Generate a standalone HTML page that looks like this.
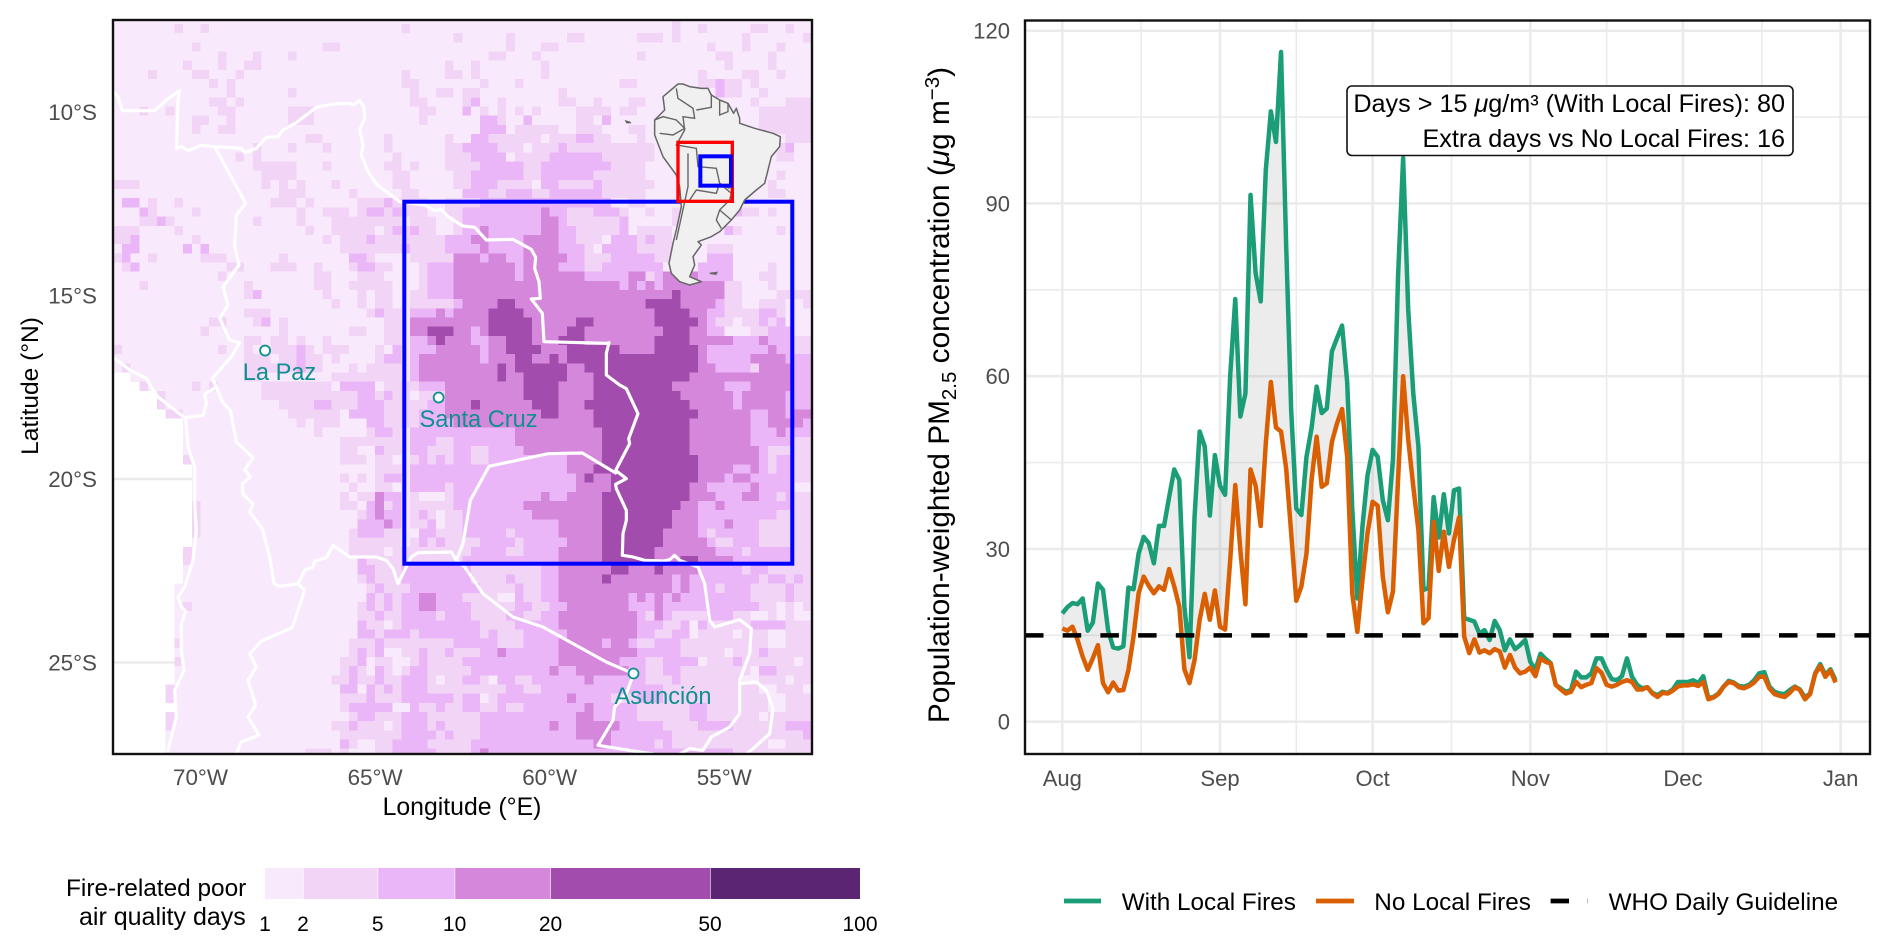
<!DOCTYPE html>
<html lang="en">
<head>
<meta charset="utf-8">
<title>Fire-related poor air quality days and PM2.5 concentration</title>
<style>
html,body{margin:0;padding:0;background:#fff;width:1892px;height:950px;overflow:hidden}
svg{display:block}
text{font-family:"Liberation Sans",Arial,sans-serif}
</style>
</head>
<body>
<svg id="fig" xmlns="http://www.w3.org/2000/svg" width="1892" height="950" viewBox="0 0 1892 950">
  <defs>
    <clipPath id="map-clip"><rect x="113" y="20" width="699" height="734"/></clipPath>
  </defs>
  <rect x="0" y="0" width="1892" height="950" fill="#fff"/>

  <g id="map-panel">
    <g id="map-cells" clip-path="url(#map-clip)"></g>
    <g clip-path="url(#map-clip)">
      <g transform="translate(113,20) scale(0.33333)" fill="none" stroke="#fff" stroke-width="9.5" stroke-linejoin="round" stroke-linecap="round">
        <polyline points="5,218 15,230 28,272 125,272 160,240 200,212 195,240 190,385 205,380 225,392 265,376 305,380 385,385 395,398 430,385 460,352 495,350 510,330 550,308 610,262 660,252 710,250 720,255 740,242 752,260 755,295 740,330 750,375 745,405 765,455 790,492 820,515 860,545 935,555 965,572 985,568 1005,590 1050,618 1085,622 1120,660 1200,658 1255,688 1268,712 1265,745 1278,785 1282,835 1255,837 1288,880 1293,965 1480,970 1488,968 1480,1000 1480,1065 1520,1095 1540,1106 1575,1181 1547,1256 1550,1271 1508,1351 1540,1376 1508,1393 1510,1406 1540,1471 1540,1501 1530,1541 1528,1606 1560,1611 1595,1621 1650,1623 1670,1619 1685,1606 1700,1621 1755,1641 1775,1691 1790,1801 1805,1821 1880,1799 1915,1826 1910,1901 1880,1981 1880,2081 1850,2121 1795,2151 1770,2191 1730,2186 1700,2202"/>
        <polyline points="305,380 398,550 370,585 365,680 378,735 330,800 345,855 320,895 350,960 380,968 355,1010 298,1075 310,1101 328,1146 352,1171 370,1266 420,1313 395,1349 412,1371 388,1391 390,1423 420,1451 410,1476 448,1526 470,1611 483,1691 500,1699 555,1691 575,1711 538,1823 445,1863 410,1901 430,1941 405,1981 428,2056 405,2091 438,2146 385,2166 370,2202"/>
        <polyline points="555,1691 575,1651 600,1641 605,1623 640,1613 660,1576 710,1611 790,1611 820,1621 840,1646 855,1691 870,1661 895,1611 915,1598 1015,1596 1030,1621 1050,1571 1072,1441 1128,1339 1305,1301 1408,1299 1508,1359"/>
        <polyline points="1030,1621 1055,1641 1110,1721 1200,1791 1290,1821 1380,1871 1480,1926 1562,1961 1540,2021 1505,2061 1500,2101 1455,2176 1580,2196 1620,2202"/>
        <polyline points="1880,1991 1930,1986 1960,2011 1980,2066 1970,2141 1920,2186 1900,2202"/>
        <polyline points="5,1015 50,1050 100,1075 115,1101 135,1131 215,1193 270,1186 280,1151 275,1123 310,1101"/>
        <polyline points="218,1193 225,1281 245,1341 245,1451 250,1531 240,1621 215,1701 195,1731 205,1761 218,1773 205,1811 205,1891 213,1951 185,2011 190,2091 165,2191"/>
      </g>
      <rect x="404.3" y="201.7" width="388" height="362" fill="none" stroke="#0000ff" stroke-width="4"/>
      <g transform="translate(113,20) scale(0.33333)">
        <polygon fill="#f0f0f0" stroke="#666" stroke-width="4.5" stroke-linejoin="round" points="1695,192 1710,192 1730,200 1765,205 1785,205 1795,225 1820,240 1845,250 1862,280 1870,265 1880,295 1880,310 1925,325 1980,340 2002,350 2000,380 1975,410 1965,450 1955,490 1930,510 1895,540 1880,570 1855,600 1820,635 1795,650 1755,665 1765,675 1740,710 1745,735 1730,770 1765,785 1730,795 1700,785 1675,760 1668,730 1680,670 1690,630 1705,560 1700,500 1690,465 1650,410 1625,345 1625,300 1655,270 1650,230"/>
        <g fill="none" stroke="#666" stroke-width="4.2">
          <polyline points="1625,300 1650,290 1690,300 1715,325 1680,345 1640,340"/>
          <polyline points="1690,205 1695,235 1740,265 1745,295 1710,290 1715,330 1690,375 1750,385 1755,440 1810,445 1820,490 1850,505"/>
          <polyline points="1795,225 1795,262 1750,270"/>
          <polyline points="1820,240 1820,285 1845,275 1845,250"/>
          <polyline points="1725,400 1725,500 1690,660"/>
          <polyline points="1730,540 1750,510 1810,520 1820,490 1855,520 1850,540 1820,570 1810,600 1825,625"/>
          <polyline points="1820,570 1855,600"/>
        </g>
        <polygon fill="#666" points="1790,758 1815,755 1810,765 1790,762"/>
        <polygon fill="#666" points="1535,300 1552,305 1555,310 1540,310"/>
        <rect x="1695" y="367" width="163" height="177" fill="none" stroke="#ff0000" stroke-width="10"/>
        <rect x="1762" y="409" width="92" height="88" fill="none" stroke="#0000ff" stroke-width="12"/>
      </g>
      <g id="map-cities"></g>
      <text x="279.5" y="380" font-size="23.6" fill="#0f8f8f" text-anchor="middle">La Paz</text>
      <text x="478.5" y="427" font-size="23.6" fill="#0f8f8f" text-anchor="middle">Santa Cruz</text>
      <text x="663" y="704" font-size="23.6" fill="#0f8f8f" text-anchor="middle">Asunción</text>
    </g>
    <rect x="113" y="20" width="699" height="734" fill="none" stroke="#111" stroke-width="2.4"/>
    <g id="map-axis-labels" font-size="22.4" fill="#4d4d4d"></g>
    <text x="462" y="815" font-size="24.8" fill="#000" text-anchor="middle">Longitude (°E)</text>
    <text transform="translate(38,386) rotate(-90)" font-size="24.5" fill="#000" text-anchor="middle">Latitude (°N)</text>
  </g>

  <g>
    <text x="66" y="896" font-size="24.4" fill="#000">Fire-related poor</text>
    <text x="79" y="925" font-size="25" fill="#000">air quality days</text>
    <rect x="265" y="868" width="38" height="31" fill="#f8e9fc"/>
    <rect x="303.6" y="868" width="74" height="31" fill="#f2d5f6"/>
    <rect x="378.2" y="868" width="76.4" height="31" fill="#eab6f7"/>
    <rect x="455.2" y="868" width="95.3" height="31" fill="#d587db"/>
    <rect x="551" y="868" width="159" height="31" fill="#a24cad"/>
    <rect x="710.6" y="868" width="149.4" height="31" fill="#5b2574"/>
    <g font-size="21" fill="#000" text-anchor="middle">
      <text x="265" y="931">1</text>
      <text x="303" y="931">2</text>
      <text x="377.7" y="931">5</text>
      <text x="454.6" y="931">10</text>
      <text x="550.5" y="931">20</text>
      <text x="710" y="931">50</text>
      <text x="860" y="931">100</text>
    </g>
  </g>

  <g id="chart-panel">
    <g id="chart-grid"></g>
    <g id="chart-series"></g>
    <rect x="1025" y="20.5" width="845" height="733.5" fill="none" stroke="#111" stroke-width="2.4"/>
    <g id="chart-tick-labels" font-size="22" fill="#4d4d4d"></g>
    <text transform="translate(949,395) rotate(-90)" font-size="29.8" fill="#000" text-anchor="middle">Population-weighted PM<tspan dy="7" font-size="20.5">2.5</tspan><tspan dy="-7"> concentration (</tspan><tspan font-style="italic">μ</tspan>g m<tspan dy="-10" font-size="20.5">−3</tspan><tspan dy="10">)</tspan></text>
    <g>
      <rect x="1347" y="86" width="446" height="69.5" rx="5" fill="#fff" stroke="#111" stroke-width="1.6"/>
      <text x="1785" y="112" font-size="25.2" fill="#000" text-anchor="end">Days &gt; 15 <tspan font-style="italic">μ</tspan>g/m³ (With Local Fires): 80</text>
      <text x="1785" y="147" font-size="25.2" fill="#000" text-anchor="end">Extra days vs No Local Fires: 16</text>
    </g>
  </g>

  <g>
    <g>
      <line x1="1064" y1="901" x2="1101" y2="901" stroke="#1b9e77" stroke-width="4.8"/>
      <text x="1121.7" y="910" font-size="24.3" fill="#000">With Local Fires</text>
    </g>
    <g>
      <line x1="1316" y1="901" x2="1354" y2="901" stroke="#d95f02" stroke-width="4.8"/>
      <text x="1374.3" y="910" font-size="24.3" fill="#000">No Local Fires</text>
    </g>
    <g>
      <line x1="1550.6" y1="901" x2="1569" y2="901" stroke="#000" stroke-width="4.8"/>
      <line x1="1587" y1="901" x2="1588" y2="901" stroke="#bbb" stroke-width="4.8"/>
      <text x="1608.6" y="910" font-size="24.3" fill="#000">WHO Daily Guideline</text>
    </g>
  </g>
</svg>

<script>
// ---------- Map data ----------
var classColours = ['#f8e9fc', '#f2d5f6', '#eab6f7', '#d587db', '#a24cad', '#5b2574'];
var lonTicks = [-70, -65, -60, -55];
var latTicks = [-10, -15, -20, -25];
var latGridlines = [-20, -25];
var cityNames = ['La Paz', 'Santa Cruz', 'Asunción'];
var cityLons = [-68.15, -63.18, -57.6];
var cityLats = [-16.5, -17.78, -25.3];
// Binned fire-related poor-air-quality day class per 0.25° cell, north to south; "." = no data
var mapRows = [
"0000000000 0000000000 0000000000 0000000000 0000000000 0000000000 0000100000 0000000000",
"0000000100 1000000000 0000000000 0001000000 0000000000 0000000000 0000100100 0001100100",
"0000000000 0000000000 0000000000 0000000001 0000010000 0011000000 1110100000 0010000001",
"0000000001 0000000000 0000110000 0000000000 0000010001 1000000000 0000000010 0010001000",
"0000000000 0010001000 1000000000 0000000000 0001100010 0000000000 1000000001 1000010000",
"0000000010 0010011000 0000000000 0000000010 0100000001 0000000000 0000000000 1000010000",
"0000100001 1000100000 0000000000 0001000011 0100000001 0000000000 0000000100 0011001000",
"0000000000 0101000000 0000000000 0001100000 0010001000 0000000011 0000000112 1101000000",
"0000000000 0001000000 1000000000 0000100110 1100000000 0100000000 0000000002 1100100000",
"0000000000 0110100000 0000000000 0000110000 1200100000 0110010001 1000000000 0001000111",
"0001001000 0011000000 1110000000 0000011000 2010101010 0001111011 0000000000 0000111111",
"0000000001 1001000000 1110000000 0000010000 0022100200 0001102000 0000000000 0000111111",
"0000000001 0011000000 0000000000 0000000000 0022201111 1001110001 1000000000 0000111111",
"0000000000 0000000000 0011000000 0100000010 0221111110 1112211000 1000000000 0000000111",
"0000000000 0000001000 1000100000 0100000011 2222111011 1211111111 1100000000 0000011200",
"0000000000 0000101000 0000000000 0010000011 1222201111 2222221111 1100000000 0000001100",
"0000000000 0000001111 1000100000 0110100011 1122222112 2222222111 1000000000 0000000000",
"0000000000 0000000111 1000000000 0011000001 1222222112 2222211111 1000000000 0000001000",
"1110000000 0000000101 0100010000 0011000001 1222111102 2111121111 1100000000 0000010000",
"0000000000 0000000001 1100000100 0001100000 2221122211 2222221111 1000000000 0000011000",
"0220100100 0000000011 1010000011 1211110011 1122222222 2222222001 1000000000 0000000000",
"0002100001 0000000000 0100111012 2121110011 2222222223 2211122210 0100100000 0211010000",
"0001121000 0000001000 0100011111 1110111001 2222222223 3211111120 0000100000 0000000000",
"1110000100 0000000000 0010011111 0121211001 2232222223 3221111120 1111000000 2100001000",
"1120000001 0000000000 0000101112 1111111122 2332222333 3221110222 1211000000 0000000000",
"0220000020 2000000000 0000001111 1112111122 2232222333 3222102222 1111000011 1000000000",
"1200100000 1110000001 0000000221 0000111113 3323322333 3322111222 2211000022 2000000000",
"0120000000 0001100011 1001000122 1100012223 3333332333 3222112222 2220000222 2000010000",
"0000000000 0010000000 0001100011 1000012223 3333332333 3333222223 3123333222 2000110000",
"0001000000 0000010000 0001100111 1100012223 3333333333 3333333323 2323333333 1100010000",
"0000000000 0000012000 0000100010 1100112223 3333333333 3333333333 3333433333 1100001111",
"0000000000 0000000000 0000010010 1100111112 3333443333 3333333333 3444433332 1100111001",
"0000000000 0000011100 0000000001 2110222323 3334444333 3333333333 3344443322 1111221000",
"0000000000 0110001201 0000000000 0110333333 3334444433 3334433333 3344444321 1011212000",
"0000000000 1000000001 0000000110 0110334443 3234444433 3344333333 3334443322 0001122200",
"0000000000 0000011011 0100100000 0110223433 3223344433 3444333333 3344443333 3222322211",
"1000000000 0010010011 1210111000 1020222333 3323344443 3344444433 3344444322 2222232211",
"0000000000 0000011101 1211010000 1220233333 3323334433 4344444444 4444444322 2223333222",
"0100000000 0000011111 1211000101 1110233333 3333434444 4433444444 4444444332 2221333322",
"..00000000 0000011000 0000011111 1110233333 3333433444 4433344444 4444443333 3333333322",
"...1000001 0100000111 1111102222 0111122233 3333333444 4333344444 4444333333 2223333322",
".....10000 0000000111 1111111122 1211011133 3333333444 4333344444 4444433333 3233333222",
".....10000 0000000001 1112211122 2111112233 3433333344 4333444444 4444443333 3233333222",
"......1100 0000000000 1111110222 2111122233 3333333334 4333344444 4444444333 3332233233",
"........00 0000000000 0101110002 2111122223 3333333333 3333344444 4444443333 3332233332",
"........00 0000000000 0001000001 2210222222 2222223333 3333334444 4444443333 3332223222",
"........00 0000000000 0000001111 1110222112 2222223333 3333334444 4444443333 3332222211",
"........00 0000000000 0000001100 2110221112 2112222333 3333334444 4444443333 3333211111",
"........10 0000000000 0000001110 1100121212 2112222222 2233334444 4444444333 3333212211",
".........0 0000000000 0000000000 1110222222 2222222222 2233344444 4444444333 3223212211",
".........0 0000000000 0000001010 1220222222 2222222222 2223433444 4444444333 2332222211",
".........0 0000000000 0000000100 1100222212 2222222222 2223333444 4444443322 2223222200",
".........0 0000000000 0000001011 3220100012 2222222223 2233334444 4444443332 2233221211",
".........1 0000000000 0000001102 3120111112 2222222333 3333334444 4444433223 2222222211",
".........1 0000000000 0000000012 3220121011 2222222233 3333334444 4444333222 2222221111",
".........1 0000000000 0000000022 2320112011 2222222222 2333334444 4444333222 3222111111",
".........1 0000000000 0000000122 2110022111 2222212222 2333334444 4443333212 2222111111",
".........0 0000000000 0000000111 1110121211 1122221222 2233334444 4443333321 1222111111",
"........10 0000000000 0000000111 1011111111 1222211222 2333334444 4433333332 2212222211",
"........10 0000000000 0000000021 1111111111 2222222222 2333334444 4433344333 3222222211",
"........00 0000000000 0000000022 1112222222 2111111112 2333333443 3343333222 2212211111",
"........00 0000000000 0000000012 1112222222 2111121112 2333334333 3333232222 2222122121",
".......000 0000000000 0000000001 2111222222 2211112112 2333333333 3333232221 2221111211",
".......000 0000000000 0000000002 1212233222 1111002112 2333333332 3232322222 2221111211",
".......010 0000000000 0000000012 1212233222 2111112211 2233333332 2232222222 2222110101",
".......000 0000000000 0000000011 2112222122 2111122112 2333333333 2132111122 2110010100",
".......000 0000000000 0000000021 1012222222 2211112222 2333333333 2221120211 1112222111",
".......000 0000000000 0000000022 1222122222 2212111222 2233333333 2211220111 1011100111",
".......100 0000000000 0000000111 2111111112 2222111222 2333332332 1122211111 1111100111",
".......000 0000000000 0000000121 2001121121 1122322222 2333333333 2222211111 0111211111",
".......100 0000000000 0000001120 1100121111 2222222222 2333333322 2112222011 1211111101",
".......000 0000000000 0000001210 2101221111 1222222222 3223333332 2112211111 1110221111",
".......000 0000000000 0000011211 2112221011 2210221122 2222322222 2111211111 1100111011",
"......1000 0000000000 0000002202 1212221111 1111122112 2222222222 2221111111 1111001110",
"......1000 0000000000 0000001112 1112222221 2201222222 2232222111 2221111111 1111100111",
".......000 0000000000 0000001222 2200211211 2211211222 2222322222 1111112211 1111100111",
"......1000 0000000000 0000000122 1112221111 1122222222 2223322222 1111112211 1111011111",
"......1000 0000000000 0000011211 1012221211 1122222222 3223333322 2221111222 2111111222",
"......0000 0000000000 0000001111 1112222121 1122222222 2223333222 2222111111 1111111112",
"......0000 0000000000 0000002100 1122221111 1222222222 2222233222 2212111111 1111100111",
"......0000 0000000000 0011101000 1122222111 1232222222 2222222222 2222222222 2111111111"
];

// ---------- Time-series data ----------
var startDate = '2024-08-01';
var monthLabels = ['Aug', 'Sep', 'Oct', 'Nov', 'Dec', 'Jan'];
var monthDays = [0, 31, 61, 92, 122, 153];
var minorDays = [15.5, 46, 76.5, 107, 137.5];
var yTicks = [0, 30, 60, 90, 120];
var yMinorTicks = [15, 45, 75, 105];
var whoGuideline = [15];
var withLocalFires = [
18.8,19.9,20.6,20.4,21.4,15.8,17.2,24,22.9,15.9,12.9,12.7,13.1,23.3,23,29.2,32.1,31,27.5,34,34,39,43.8,42,20,11.2,35.6,50.4,47.8,35.8,46.3,41,
39.4,60,73.4,53,57,91.5,77.9,73,95.8,106,100.7,116.3,83,54,37,35.9,46,51,58.2,53.6,54.4,64.3,66.6,68.8,59,37,21.4,33.9,42.8,
47.2,46,38.5,35,45.5,77.3,97.9,71.5,57,47.8,22.9,23.2,39,32,39.5,32.7,40.2,40.5,18,17.7,17.4,15.3,15.9,14.2,17.5,15.9,12.4,14.3,12.6,13.3,14.2,
10.4,9,11.8,10.9,10.2,6.4,5.8,5.2,5.5,8.7,7.7,7.7,8.4,11,11,9,7.4,7.2,7.9,11,7.8,6.4,5.8,6,5,4.6,5.2,5,5.6,6.9,6.9,6.9,7.2,6.7,
7.9,4.1,4.3,4.9,6.1,7.1,6.8,6.2,6.1,6.4,7.2,8.4,8.6,6.1,5.2,4.9,4.8,5.5,6.1,5.6,4.2,4.9,8.4,10,8.1,9.1,7.2
];
var noLocalFires = [
16.2,15.8,16.5,14.2,11.3,9,11,13.3,6.7,5.1,6.8,5.4,5.5,9,14.8,22.3,25.2,23.6,22.3,23.5,22.9,26.5,23.5,20,9.1,6.7,10.7,17.7,22.2,17.7,22.8,16.5,
16,28,41.1,29.8,20.4,43.8,41,34,48.3,59,51.1,50.4,44,32.7,21,23.5,29.2,42,49.5,40.8,41.4,48.6,51.8,54.3,46,22.3,15.6,24.6,32.7,
38.2,37.5,25.2,19,22.6,42,60,49,40.8,33.3,17.1,18,34.7,26.2,33,26.9,31.6,35.5,14.8,11.9,14.3,12,12.4,11.9,12.6,12.2,9.4,11.6,9.4,8.4,8.7,
9.4,7.9,11,10.4,10.1,6.4,5.6,4.9,5.2,6.9,6,6.4,6.7,9.3,8.5,6.4,6.1,6.4,6.9,7.2,6.9,5.6,5.6,6,4.9,4.3,5,4.9,5.4,6.1,6.3,6.3,6.5,6.2,
6.9,3.9,4.2,4.8,6.1,6.9,6.7,6,5.8,6.2,6.8,7.8,7.8,5.8,4.8,4.5,4.3,5,6,5.5,3.9,4.8,8.3,9.7,7.8,8.9,6.8
];

// ---------- Axis functions ----------
var SVGNS = 'http://www.w3.org/2000/svg';
function mapX(lon) { return 200.5 + (lon + 70) * 34.92; }
function mapY(lat) { return 112 + (-lat - 10) * 36.7; }
function chartX(day) { return 1062.3 + day * 5.087; }
function chartY(value) { return 721.7 - value * 5.758; }
function make(tag, parent, attrs) {
  var el = document.createElementNS(SVGNS, tag);
  for (var k in attrs) { el.setAttribute(k, attrs[k]); }
  parent.appendChild(el);
  return el;
}
function lonLabel(lon) { return Math.abs(lon) + '°W'; }
function latLabel(lat) { return Math.abs(lat) + '°S'; }

// ---------- Map ----------
var cellsGroup = document.getElementById('map-cells');
var cellLon = 0.25, cellLat = 0.25, lonStart = -72.5, latStart = -7.35;
latGridlines.forEach(function (lat) {
  var g = make('line', cellsGroup, { x1: 113, x2: 812, y1: mapY(lat), y2: mapY(lat), stroke: '#ebebeb', 'stroke-width': 2.6 });
  
  
});
mapRows.forEach(function (rowText, r) {
  var row = rowText.replace(/ /g, '');
  for (var c = 0; c < row.length; c++) {
    var ch = row.charAt(c);
    if (ch === '.') { continue; }
    var x0 = mapX(lonStart + c * cellLon), x1 = mapX(lonStart + (c + 1) * cellLon);
    var y0 = mapY(latStart - r * cellLat), y1 = mapY(latStart - (r + 1) * cellLat);
    var cell = make('rect', cellsGroup, { x: x0, y: y0, width: x1 - x0 + 0.15, height: y1 - y0 + 0.15, fill: classColours[+ch], 'shape-rendering': 'crispEdges' });
    
    
  }
});
var citiesGroup = document.getElementById('map-cities');
cityNames.forEach(function (name, i) {
  var m = make('circle', citiesGroup, { cx: mapX(cityLons[i]), cy: mapY(cityLats[i]), r: 5, fill: '#fff', stroke: '#0f8f8f', 'stroke-width': 1.8 });
  
  
});
var mapLabels = document.getElementById('map-axis-labels');
lonTicks.forEach(function (lon) {
  var t = make('text', mapLabels, { x: mapX(lon), y: 785, 'text-anchor': 'middle' });
  t.textContent = lonLabel(lon);
  
  
});
latTicks.forEach(function (lat) {
  var t = make('text', mapLabels, { x: 97, y: mapY(lat) + 8, 'text-anchor': 'end' });
  t.textContent = latLabel(lat);
  
  
});

// ---------- Time series ----------
var gridGroup = document.getElementById('chart-grid');
function hLine(v, w) {
  var l = make('line', gridGroup, { x1: 1025, x2: 1870, y1: chartY(v), y2: chartY(v), stroke: '#ebebeb', 'stroke-width': w });
  
  
}
function vLine(d, w) {
  var l = make('line', gridGroup, { x1: chartX(d), x2: chartX(d), y1: 20.5, y2: 754, stroke: '#ebebeb', 'stroke-width': w });
  
  
}
yMinorTicks.forEach(function (v) { hLine(v, 1.6); });
yTicks.forEach(function (v) { hLine(v, 2.6); });
minorDays.forEach(function (d) { vLine(d, 1.6); });
monthDays.forEach(function (d) { vLine(d, 2.6); });

var seriesGroup = document.getElementById('chart-series');
function pointsOf(values) {
  return values.map(function (v, i) { return chartX(i).toFixed(2) + ',' + chartY(v).toFixed(2); });
}
var ribbon = make('polygon', seriesGroup, {
  points: pointsOf(withLocalFires).concat(pointsOf(noLocalFires).reverse()).join(' '),
  fill: '#808080', 'fill-opacity': 0.15, stroke: 'none'
});


var lineWith = make('polyline', seriesGroup, {
  points: pointsOf(withLocalFires).join(' '), fill: 'none', stroke: '#1b9e77', 'stroke-width': 4.5, 'stroke-linejoin': 'round'
});


var lineNo = make('polyline', seriesGroup, {
  points: pointsOf(noLocalFires).join(' '), fill: 'none', stroke: '#d95f02', 'stroke-width': 4.5, 'stroke-linejoin': 'round'
});


var who = make('line', seriesGroup, {
  x1: 1025, x2: 1870, y1: chartY(whoGuideline[0]), y2: chartY(whoGuideline[0]), stroke: '#000', 'stroke-width': 4.5, 'stroke-dasharray': '18.5 19.2'
});



var tickGroup = document.getElementById('chart-tick-labels');
yTicks.forEach(function (v) {
  var t = make('text', tickGroup, { x: 1010, y: chartY(v) + 8, 'text-anchor': 'end' });
  t.textContent = String(v);
  
  
});
monthLabels.forEach(function (label, i) {
  var t = make('text', tickGroup, { x: chartX(monthDays[i]), y: 786, 'text-anchor': 'middle' });
  t.textContent = label;
  
  
});
</script>
</body>
</html>
